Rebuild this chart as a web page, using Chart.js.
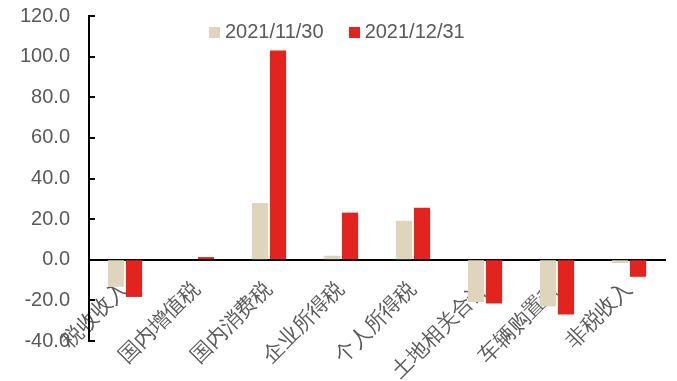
<!DOCTYPE html>
<html><head><meta charset="utf-8">
<script src="https://cdn.jsdelivr.net/npm/chart.js@4/dist/chart.umd.min.js"></script>
<style>
html,body{margin:0;padding:0;background:#fff;}
#wrap{position:relative;width:677px;height:381px;}
#legend{position:absolute;top:20px;left:209px;font:20px "Liberation Sans",Arial,sans-serif;color:#595959;white-space:nowrap;}
#legend span.item{display:inline-block;margin-right:25px;}
#legend i{display:inline-block;width:11px;height:11px;margin-right:5px;vertical-align:0px;}
</style></head>
<body><div id="wrap"><canvas id="c" width="677" height="381"></canvas>
<div id="legend"></div></div>
<script>
const categories = ["税收收入","国内增值税","国内消费税","企业所得税","个人所得税","土地相关合计","车辆购置税","非税收入"];
const seriesNames = ["2021/11/30","2021/12/31"];
const nov30 = [-13.3, 0.0, 27.9, 2.0, 19.2, -20.8, -23.0, -1.6];
const dec31 = [-18.3, 1.3, 103.0, 23.2, 25.6, -21.5, -27.0, -8.4];
const yTicks = [-40, -20, 0, 20, 40, 60, 80, 100, 120];

const colors = ["#DED5BC", "#E2231E"];
const FONT = '"Liberation Sans", Arial, sans-serif';

document.getElementById('legend').innerHTML = seriesNames.map((n,i)=>
  `<span class="item"><i style="background:${colors[i]}"></i>${n}</span>`).join('');

const inwardTicks = {
  id: 'inwardTicks',
  afterDraw(chart) {
    const y = chart.scales.y, ctx = chart.ctx, left = chart.chartArea.left;
    ctx.save();
    ctx.strokeStyle = '#000';
    ctx.lineWidth = 2;
    yTicks.forEach(v => {
      const py = Math.round(y.getPixelForValue(v));
      ctx.beginPath();
      ctx.moveTo(left, py);
      ctx.lineTo(left + 6, py);
      ctx.stroke();
    });
    ctx.restore();
  }
};

new Chart(document.getElementById('c'), {
  type: 'bar',
  data: {
    labels: categories,
    datasets: [
      {label: seriesNames[0], data: nov30, backgroundColor: colors[0]},
      {label: seriesNames[1], data: dec31, backgroundColor: colors[1]}
    ]
  },
  options: {
    responsive: false,
    animation: false,
    devicePixelRatio: 1,
    layout: {padding: {left: 0, right: 12, top: 16, bottom: 40}},
    plugins: {legend: {display: false}, tooltip: {enabled: false}},
    datasets: {bar: {categoryPercentage: 0.5, barPercentage: 0.9}},
    scales: {
      x: {
        position: {y: 0},
        grid: {display: true, drawOnChartArea: false, drawTicks: false},
        border: {display: true, color: '#000', width: 2},
        ticks: {minRotation: 45, maxRotation: 45, padding: 17, color: '#595959',
                font: {family: FONT, size: 21}, autoSkip: false},
        afterFit(s) { s.height = 0; }
      },
      y: {
        min: -40, max: 120,
        afterBuildTicks(s) { s.ticks = yTicks.map(v => ({value: v})); },
        grid: {display: true, drawOnChartArea: false, drawTicks: true, tickLength: 17, tickColor: 'rgba(0,0,0,0)'},
        border: {display: true, color: '#000', width: 2},
        ticks: {padding: 2, color: '#595959', font: {family: FONT, size: 20},
                callback: v => v.toFixed(1)},
        afterFit(s) { s.width = 89; }
      }
    }
  },
  plugins: [inwardTicks]
});
</script></body></html>
